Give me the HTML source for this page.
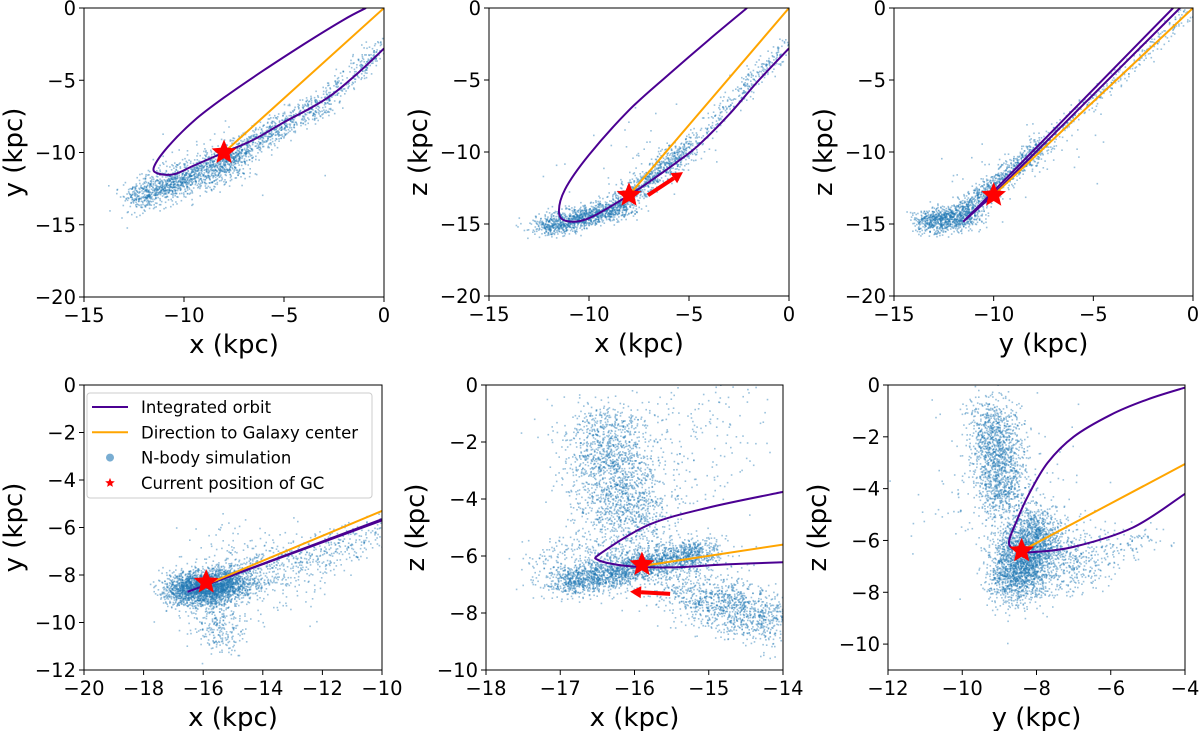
<!DOCTYPE html>
<html><head><meta charset="utf-8"><style>
html,body{margin:0;padding:0;background:#fff;}
svg{display:block;font-family:"DejaVu Sans","Liberation Sans",sans-serif;}
</style></head><body>
<svg id="fig" width="1200" height="731" viewBox="0 0 1200 731" xmlns="http://www.w3.org/2000/svg"></svg>
<script>
// ---- data: orbit curves per panel ----
const orbit1 = [[-0.9,0],[-2,-0.8],[-4,-2.5],[-6,-4.3],[-8,-6.2],[-9.5,-7.8],[-10.8,-9.6],[-11.5,-11.0],[-11.3,-11.45],[-10.5,-11.5],[-9.5,-10.9],[-8,-10],[-6.5,-9.1],[-5,-7.9],[-3.7,-6.95],[-2.6,-6.0],[-1.3,-4.5],[0,-2.8]];
const orbit2 = [[-2.1,0],[-4,-2.2],[-6,-4.6],[-8,-7.1],[-10,-10.2],[-11.2,-12.6],[-11.5,-14.2],[-11.1,-14.8],[-10,-14.6],[-8,-13],[-6.5,-11.6],[-5.5,-10.6],[-4.5,-9.5],[-3,-7.4],[-1.5,-5.0],[0,-2.8]];
const orbit3 = [[-0.65,0],[-10.2,-13.2],[-11.5,-14.8],[-10.2,-13.0],[-1.0,0]];
const orbit4 = [[-10,-5.65],[-16.5,-8.7],[-10,-5.7]];
const orbit5 = [[-14,-3.75],[-15,-4.3],[-15.8,-4.9],[-16.45,-5.9],[-16.48,-6.15],[-16.1,-6.35],[-15.5,-6.4],[-14.8,-6.3],[-14,-6.22]];
const orbit6 = [[-4,-0.1],[-5,-0.55],[-6,-1.15],[-7,-2.0],[-7.7,-3.0],[-8.2,-4.2],[-8.55,-5.3],[-8.74,-6.1],[-8.5,-6.4],[-8.1,-6.45],[-7,-6.25],[-5.4,-5.5],[-4,-4.2]];
// direction to galaxy centre: [start, end]
const dir1 = [[-8,-10],[0,0]];
const dir2 = [[-8,-13],[0,0]];
const dir3 = [[-10,-13],[0,0]];
const dir4 = [[-15.9,-8.4],[-10,-5.3]];
const dir5 = [[-15.9,-6.35],[-14,-5.6]];
const dir6 = [[-8.4,-6.4],[-4,-3.05]];
// current position of GC
const gc1 = [-8,-10], gc2 = [-8,-13], gc3 = [-10,-13], gc4 = [-15.9,-8.3], gc5 = [-15.9,-6.3], gc6 = [-8.4,-6.4];
// velocity arrows
const arrow2 = [[-7.05,-13.0],[-5.3,-11.4]];
const arrow5 = [[-15.52,-7.33],[-16.06,-7.25]];
// N-body cloud segments: [x1,y1,x2,y2,sigmaX,sigmaY,count]
const cloud1 = [[-12.5,-13.2,-7.5,-10.5,0.5,0.55,1400],[-8,-10.5,-3,-6.5,0.35,0.45,700],[-3,-6.5,0,-2.5,0.3,0.35,250],[-10,-11,-6,-9,1.2,1.2,60]];
const cloud2 = [[-12.3,-15.3,-8.2,-13.8,0.5,0.35,1200],[-8.5,-13.5,-5,-9.7,0.35,0.4,700],[-5,-9.7,0,-2.3,0.25,0.35,300],[-10,-13,-5,-9,1.5,1.2,50]];
const cloud3 = [[-13.5,-14.9,-11,-14.4,0.4,0.45,900],[-11.5,-14,-7.5,-9.5,0.3,0.35,800],[-7.5,-9.5,0,0,0.25,0.25,300],[-12,-13,-6,-9,1.3,1.0,50]];
const cloud4 = [[-16.7,-8.7,-15,-8.3,0.45,0.35,2600],[-15,-8.3,-10,-6.3,0.5,0.45,500],[-15.8,-9.5,-15.2,-10.8,0.4,0.5,250],[-16,-8,-13,-8,1.0,1.0,300]];
const cloud5 = [[-16.4,-1.2,-16.1,-5.2,0.3,0.45,1700],[-17,-7.0,-15,-5.8,0.15,0.25,2000],[-15.3,-7.3,-14,-8.4,0.25,0.45,1100],[-16.2,-4,-14.8,-1,0.6,1.4,300],[-17.2,-6.3,-15,-6.5,0.3,0.6,600]];
const cloud6 = [[-9.2,-1.2,-8.9,-4.5,0.35,0.55,1400],[-8.6,-7.8,-8.0,-5.5,0.4,0.5,2600],[-8.0,-6.5,-5,-6.0,0.5,0.4,250],[-9.5,-3,-8,-6,1.0,1.2,250],[-7.5,-7.4,-6.5,-7.0,0.4,0.4,200]];

const NS="http://www.w3.org/2000/svg";
const svg=document.getElementById('fig');
function mk(tag,attrs,parent){const e=document.createElementNS(NS,tag);for(const k in attrs)e.setAttribute(k,attrs[k]);(parent||svg).appendChild(e);return e;}
let seed=12345;function rnd(){seed=(seed*1103515245+12345)%2147483648;return seed/2147483648;}
function gauss(){let u=rnd()||1e-9,v=rnd();return Math.sqrt(-2*Math.log(u))*Math.cos(2*Math.PI*v);}
const fmt=v=>(v<0?'\u2212':'')+Math.abs(v);
function smoothPath(pts){let d='M'+pts[0][0].toFixed(1)+','+pts[0][1].toFixed(1);
 for(let i=0;i<pts.length-1;i++){const p0=pts[Math.max(0,i-1)],p1=pts[i],p2=pts[i+1],p3=pts[Math.min(pts.length-1,i+2)];
  const c1=[p1[0]+(p2[0]-p0[0])/6,p1[1]+(p2[1]-p0[1])/6],c2=[p2[0]-(p3[0]-p1[0])/6,p2[1]-(p3[1]-p1[1])/6];
  d+=` C${c1[0].toFixed(1)},${c1[1].toFixed(1)} ${c2[0].toFixed(1)},${c2[1].toFixed(1)} ${p2[0].toFixed(1)},${p2[1].toFixed(1)}`;}
 return d;}

const panels=[
 {id:'xy-top',box:[84,8,384,297],xd:[-15,0],yd:[-20,0],xt:[-15,-10,-5,0],yt:[0,-5,-10,-15,-20],xl:'x (kpc)',yl:'y (kpc)',orbit:orbit1,smooth:true,dir:dir1,gc:gc1,cloud:cloud1},
 {id:'xz-top',box:[489,8,789,296],xd:[-15,0],yd:[-20,0],xt:[-15,-10,-5,0],yt:[0,-5,-10,-15,-20],xl:'x (kpc)',yl:'z (kpc)',orbit:orbit2,smooth:true,dir:dir2,gc:gc2,cloud:cloud2,arrow:arrow2},
 {id:'yz-top',box:[894,8,1193,296],xd:[-15,0],yd:[-20,0],xt:[-15,-10,-5,0],yt:[0,-5,-10,-15,-20],xl:'y (kpc)',yl:'z (kpc)',orbit:orbit3,dir:dir3,gc:gc3,cloud:cloud3},
 {id:'xy-zoom',box:[84,385,382,670],xd:[-20,-10],yd:[-12,0],xt:[-20,-18,-16,-14,-12,-10],yt:[0,-2,-4,-6,-8,-10,-12],xl:'x (kpc)',yl:'y (kpc)',orbit:orbit4,dir:dir4,gc:gc4,cloud:cloud4,legend:true},
 {id:'xz-zoom',box:[486,385,783,670],xd:[-18,-14],yd:[-10,0],xt:[-18,-17,-16,-15,-14],yt:[0,-2,-4,-6,-8,-10],xl:'x (kpc)',yl:'z (kpc)',orbit:orbit5,smooth:true,dir:dir5,gc:gc5,cloud:cloud5,arrow:arrow5},
 {id:'yz-zoom',box:[888,385,1185,670],xd:[-12,-4],yd:[-11,0],xt:[-12,-10,-8,-6,-4],yt:[0,-2,-4,-6,-8,-10],xl:'y (kpc)',yl:'z (kpc)',orbit:orbit6,smooth:true,dir:dir6,gc:gc6,cloud:cloud6}
];
function starPts(cx,cy,R){const r=R*0.45;let p=[];for(let i=0;i<10;i++){const a=-Math.PI/2+i*Math.PI/5,rr=i%2?r:R;p.push((cx+rr*Math.cos(a)).toFixed(1)+','+(cy+rr*Math.sin(a)).toFixed(1));}return p.join(' ');}

panels.forEach((P,pi)=>{
 const [L,T,R,B]=P.box;
 const sx=v=>L+(v-P.xd[0])/(P.xd[1]-P.xd[0])*(R-L);
 const sy=v=>B-(v-P.yd[0])/(P.yd[1]-P.yd[0])*(B-T);
 const g=mk('g',{});
 
 
 const cid='clip'+pi;
 const cp=mk('clipPath',{id:cid},g);mk('rect',{x:L,y:T,width:R-L,height:B-T},cp);
 const plot=mk('g',{'clip-path':'url(#'+cid+')'},g);
 const sc=mk('g',{fill:'#1f77b4','fill-opacity':0.45},plot);
 
 
 P.cloud.forEach(s=>{for(let i=0;i<s[6];i++){const t=rnd();const x=s[0]+(s[2]-s[0])*t+gauss()*s[4];const y=s[1]+(s[3]-s[1])*t+gauss()*s[5];
   mk('rect',{x:(sx(x)-0.8).toFixed(1),y:(sy(y)-0.8).toFixed(1),width:1.6,height:1.6},sc);}});
 const opts=P.orbit.map(p=>[sx(p[0]),sy(p[1])]);
 const d=P.smooth?smoothPath(opts):'M'+opts.map(p=>p[0].toFixed(1)+','+p[1].toFixed(1)).join(' L');
 const orb=mk('path',{d:d,fill:'none',stroke:'#4b0092',"stroke-width":2,"stroke-linejoin":'round'},plot);
 
 
 const dl=mk('line',{x1:sx(P.dir[0][0]),y1:sy(P.dir[0][1]),x2:sx(P.dir[1][0]),y2:sy(P.dir[1][1]),stroke:'#ffa500','stroke-width':2},plot);
 
 
 const st=mk('polygon',{points:starPts(sx(P.gc[0]),sy(P.gc[1]),13),fill:'#ff0000'},plot);
 
 
 if(P.arrow){const x1=sx(P.arrow[0][0]),y1=sy(P.arrow[0][1]),x2=sx(P.arrow[1][0]),y2=sy(P.arrow[1][1]);
   const a=Math.atan2(y2-y1,x2-x1),hl=11,hw=6;const bx=x2-hl*Math.cos(a),by=y2-hl*Math.sin(a);
   const ag=mk('g',{},plot);
   
   
   mk('line',{x1:x1,y1:y1,x2:bx,y2:by,stroke:'#ff0000','stroke-width':4},ag);
   mk('polygon',{points:`${x2},${y2} ${bx-hw*Math.sin(a)},${by+hw*Math.cos(a)} ${bx+hw*Math.sin(a)},${by-hw*Math.cos(a)}`,fill:'#ff0000'},ag);}
 const fr=mk('rect',{x:L,y:T,width:R-L,height:B-T,fill:'none',stroke:'#000','stroke-width':1},g);
 
 
 P.xt.forEach(v=>{const x=sx(v);mk('line',{x1:x,y1:B,x2:x,y2:B+5,stroke:'#000'},g);
   const t=mk('text',{x:x,y:B+25,'font-size':19.5,'text-anchor':'middle'},g);t.textContent=fmt(v);
   
   });
 P.yt.forEach(v=>{const y=sy(v);mk('line',{x1:L-5,y1:y,x2:L,y2:y,stroke:'#000'},g);
   const t=mk('text',{x:L-8,y:y+7,'font-size':19.5,'text-anchor':'end'},g);t.textContent=fmt(v);
   
   });
 const xl=mk('text',{x:(L+R)/2,y:B+56,'font-size':26,'text-anchor':'middle'},g);xl.textContent=P.xl;
 
 
 const yx=L-62,yc=(T+B)/2;
 const yl=mk('text',{x:yx,y:yc,'font-size':26,'text-anchor':'middle',transform:`rotate(-90 ${yx} ${yc})`},g);yl.textContent=P.yl;
 
 
 if(P.legend){
   const lg=mk('g',{},g);
   
   
   mk('rect',{x:87,y:393,width:285,height:105,rx:3,fill:'#fff','fill-opacity':0.85,stroke:'#ccc'},lg);
   const items=[['Integrated orbit','line','#4b0092'],['Direction to Galaxy center','line','#ffa500'],['N-body simulation','dot','#1f77b4'],['Current position of GC','star','#ff0000']];
   items.forEach((it,i)=>{const cy=407+i*25.3;
     const e=mk('g',{},lg);
     
     
     if(it[1]==='line')mk('line',{x1:92,y1:cy,x2:128,y2:cy,stroke:it[2],'stroke-width':2},e);
     else if(it[1]==='dot')mk('circle',{cx:110,cy:cy,r:4,fill:it[2],'fill-opacity':0.6},e);
     else mk('polygon',{points:starPts(110,cy,5),fill:it[2]},e);
     const t=mk('text',{x:141,y:cy+6,'font-size':16.5},e);t.textContent=it[0];});
 }
});
</script>
</body></html>
